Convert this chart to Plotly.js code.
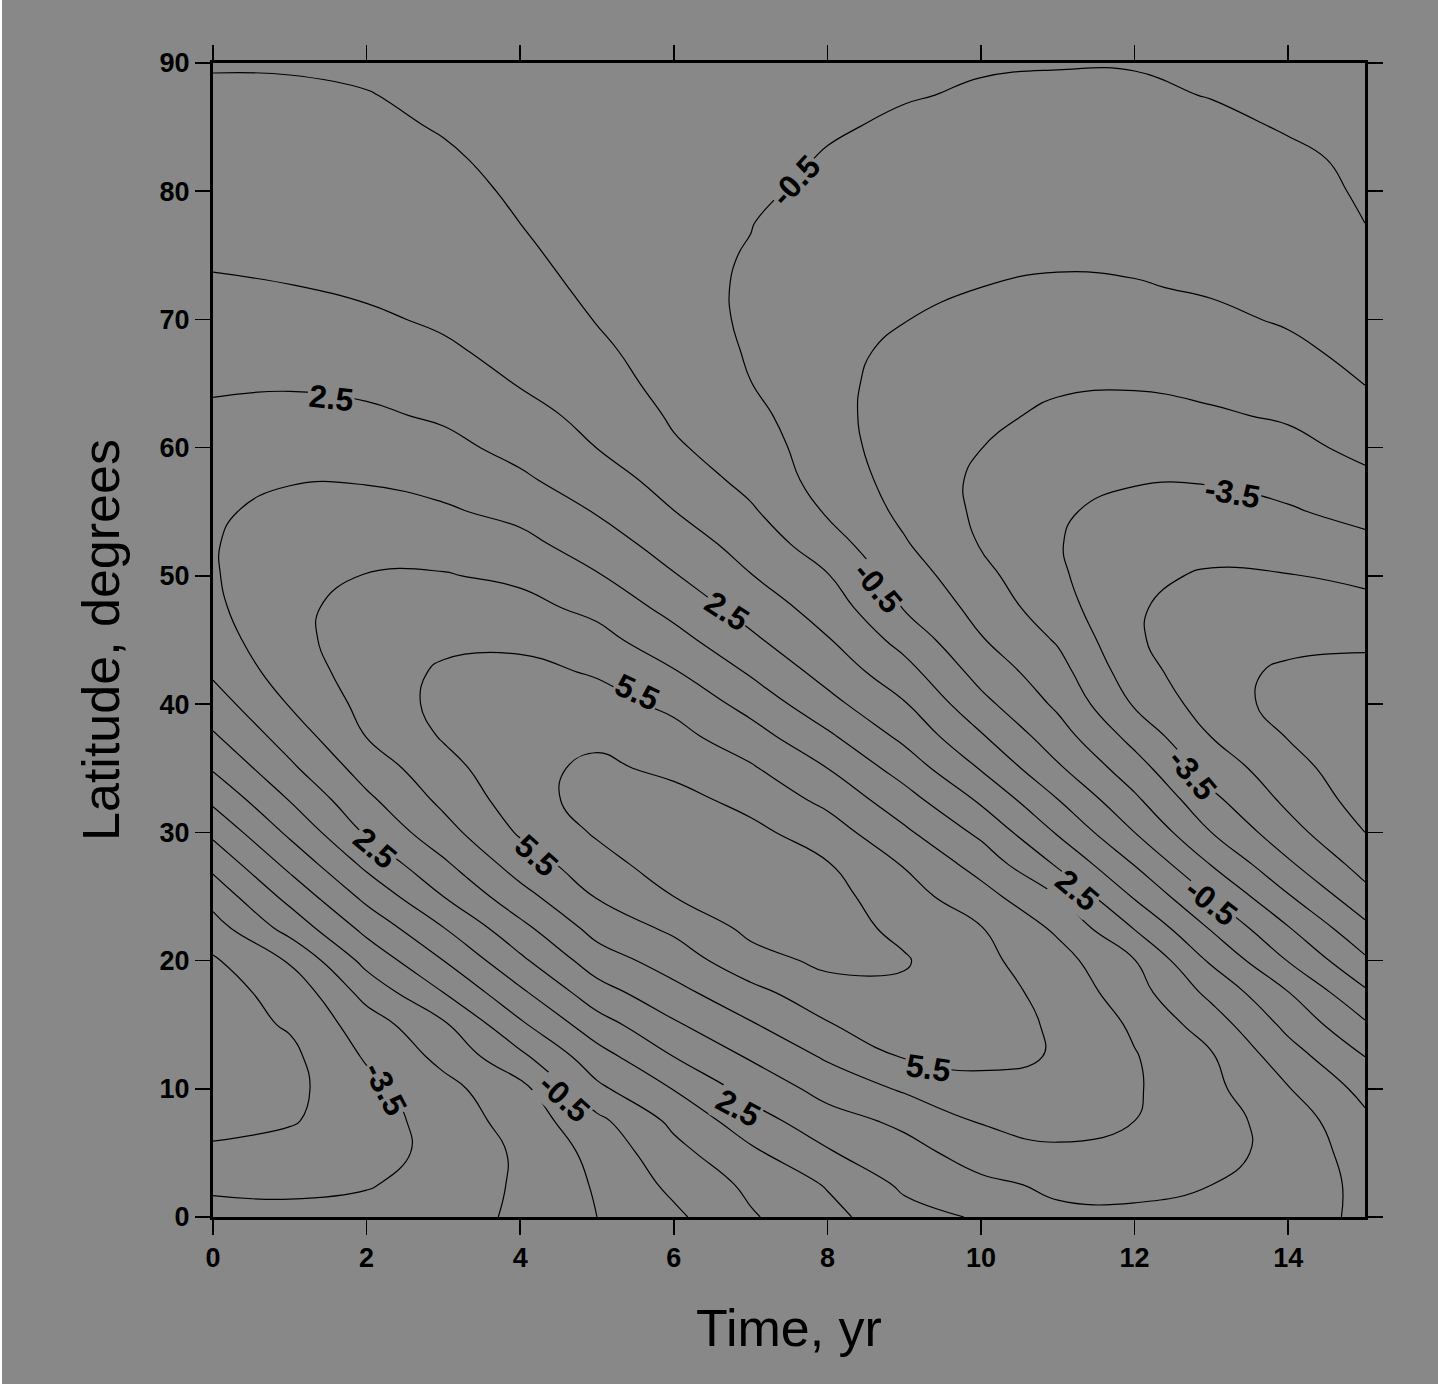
<!DOCTYPE html>
<html>
<head>
<meta charset="utf-8">
<script src="https://cdn.plot.ly/plotly-3.0.1.min.js"></script>
<style>
  html, body { margin: 0; padding: 0; background: #ffffff; }
  #chart { margin-left: 2px; width: 1436px; height: 1384px; }
</style>
</head>
<body>
<div id="chart"></div>
<script>
// Time axis (years) and latitude axis (degrees)
const timeYears = [0, 1, 2, 3, 4, 5, 6, 7, 8, 9, 10, 11, 12, 13, 14, 15];
const latitudeDeg = [0, 2.5, 5, 7.5, 10, 12.5, 15, 17.5, 20, 22.5, 25, 27.5, 30, 32.5, 35, 37.5, 40, 42.5, 45,
                     47.5, 50, 52.5, 55, 57.5, 60, 62.5, 65, 67.5, 70, 72.5, 75, 77.5, 80, 82.5, 85, 87.5, 90];

// Field values, one row per latitude (t = 0..15 yr)
const lat00_0 = [-3.1, -3.25, -3.19, -3.0, -2.3, -1.5, -0.7, 0.4, 1.2, 2.15, 2.6, 3.3, 3.35, 3.1, 2.95, 2.3];
const lat02_5 = [-3.7, -3.7, -3.56, -3.15, -2.35, -1.4, -0.27, 0.7, 1.57, 2.67, 3.28, 3.68, 3.69, 3.5, 3.1, 2.25];
const lat05_0 = [-4.38, -4.14, -3.9, -3.2, -2.35, -1.2, 0.18, 1.3, 2.4, 3.14, 3.94, 4.3, 4.1, 3.85, 3.15, 2.05];
const lat07_5 = [-4.71, -4.58, -3.99, -3.05, -2.1, -0.75, 0.73, 2.07, 3.11, 3.71, 4.58, 4.9, 4.5, 3.9, 3.06, 1.7];
const lat10_0 = [-4.88, -4.75, -3.8, -2.8, -1.8, 0.29, 1.54, 2.85, 3.84, 4.63, 5.24, 5.29, 4.6, 3.75, 2.55, 1.21];
const lat12_5 = [-4.99, -4.73, -3.39, -2.24, -0.73, 1.09, 2.5, 3.6, 4.63, 5.56, 5.7, 5.45, 4.56, 3.6, 1.94, 0.5];
const lat15_0 = [-4.98, -4.4, -3.0, -1.65, 0.33, 2.07, 3.36, 4.4, 5.44, 5.95, 5.9, 5.38, 4.35, 3.0, 1.24, -0.36];
const lat17_5 = [-4.82, -4.2, -2.15, -0.5, 1.31, 3.08, 4.2, 5.19, 6.14, 6.33, 5.88, 5.21, 3.9, 2.25, 0.53, -1.34];
const lat20_0 = [-4.62, -3.4, -1.19, 0.5, 2.3, 4.02, 4.96, 6.15, 6.7, 6.58, 5.75, 4.88, 3.53, 1.35, -0.54, -2.34];
const lat22_5 = [-3.92, -2.15, -0.22, 1.46, 3.21, 4.85, 5.69, 6.73, 6.89, 6.29, 5.55, 4.33, 2.46, 0.42, -1.43, -3.25];
const lat25_0 = [-3.12, -1.19, 0.77, 2.5, 4.15, 5.56, 6.5, 7.02, 6.85, 5.9, 4.88, 3.5, 1.4, -0.54, -2.42, -4.17];
const lat27_5 = [-2.23, -0.23, 1.73, 3.33, 4.96, 6.11, 7.02, 7.01, 6.56, 5.44, 4.11, 2.38, 0.46, -1.54, -3.35, -4.89];
const lat30_0 = [-1.27, 0.7, 2.63, 4.13, 5.62, 6.62, 7.14, 6.75, 5.98, 4.68, 3.28, 1.4, -0.5, -2.5, -4.14, -5.5];
const lat32_5 = [-0.31, 1.53, 3.29, 4.72, 6.01, 6.94, 6.83, 6.21, 5.26, 3.91, 2.36, 0.53, -1.31, -3.26, -4.71, -5.91];
const lat35_0 = [0.6, 2.31, 3.93, 5.16, 6.2, 6.7, 6.27, 5.62, 4.5, 3.07, 1.43, -0.36, -2.08, -3.93, -5.13, -6.14];
const lat37_5 = [1.39, 2.96, 4.53, 5.59, 6.24, 6.29, 5.81, 4.91, 3.67, 2.26, 0.6, -1.08, -2.84, -4.52, -5.55, -6.2];
const lat40_0 = [2.05, 3.56, 4.79, 5.8, 6.08, 5.86, 5.28, 4.16, 2.81, 1.58, -0.21, -1.68, -3.6, -5.0, -5.85, -6.08];
const lat42_5 = [2.65, 4.0, 4.93, 5.65, 5.76, 5.41, 4.58, 3.39, 2.14, 0.87, -0.86, -2.13, -4.07, -5.2, -5.65, -5.78];
const lat45_0 = [3.05, 4.24, 4.95, 5.26, 5.29, 4.84, 3.85, 2.69, 1.57, 0.15, -1.43, -2.6, -4.38, -5.15, -5.26, -5.32];
const lat47_5 = [3.31, 4.3, 4.81, 4.92, 4.81, 4.24, 3.18, 2.1, 1.06, -0.55, -1.84, -3.1, -4.4, -4.95, -4.9, -4.81];
const lat50_0 = [3.42, 4.23, 4.53, 4.56, 4.31, 3.58, 2.57, 1.54, 0.56, -0.98, -2.22, -3.35, -4.32, -4.6, -4.54, -4.29];
const lat52_5 = [3.44, 4.06, 4.17, 4.1, 3.78, 3.0, 2.04, 1.09, -0.05, -1.41, -2.56, -3.45, -4.12, -4.2, -4.08, -3.74];
const lat55_0 = [3.36, 3.8, 3.8, 3.63, 3.23, 2.44, 1.52, 0.64, -0.6, -1.72, -2.68, -3.39, -3.81, -3.82, -3.6, -3.21];
const lat57_5 = [3.2, 3.43, 3.44, 3.19, 2.66, 1.96, 1.11, 0.2, -0.89, -1.9, -2.67, -3.24, -3.42, -3.43, -3.18, -2.7];
const lat60_0 = [2.97, 3.09, 3.05, 2.77, 2.21, 1.49, 0.61, 0.05, -1.08, -1.99, -2.49, -3.01, -3.09, -3.02, -2.77, -2.26];
const lat62_5 = [2.67, 2.75, 2.66, 2.37, 1.81, 1.23, 0.38, -0.22, -1.18, -1.99, -2.29, -2.68, -2.75, -2.61, -2.39, -1.85];
const lat65_0 = [2.37, 2.42, 2.3, 1.98, 1.45, 0.96, 0.14, -0.49, -1.2, -1.9, -2.09, -2.37, -2.43, -2.28, -2.03, -1.48];
const lat67_5 = [2.11, 2.12, 1.99, 1.62, 1.26, 0.71, -0.03, -0.57, -1.18, -1.73, -1.9, -2.11, -2.14, -1.96, -1.67, -1.28];
const lat70_0 = [1.85, 1.82, 1.62, 1.39, 1.05, 0.46, -0.2, -0.6, -1.14, -1.48, -1.7, -1.85, -1.84, -1.65, -1.42, -1.09];
const lat72_5 = [1.59, 1.52, 1.38, 1.24, 0.7, 0.38, -0.26, -0.59, -1.07, -1.34, -1.5, -1.59, -1.55, -1.42, -1.25, -0.89];
const lat75_0 = [1.4, 1.36, 1.27, 1.07, 0.57, 0.35, -0.3, -0.54, -0.97, -1.19, -1.34, -1.4, -1.37, -1.26, -1.09, -0.6];
const lat77_5 = [1.24, 1.21, 1.13, 0.92, 0.5, 0.26, -0.29, -0.48, -0.88, -1.04, -1.19, -1.24, -1.21, -1.1, -0.92, -0.5];
const lat80_0 = [1.08, 1.06, 0.97, 0.72, 0.4, 0.22, -0.25, -0.33, -0.74, -0.9, -1.03, -1.08, -1.06, -0.94, -0.76, -0.42];
const lat82_5 = [0.93, 0.91, 0.83, 0.6, 0.29, 0.19, -0.2, -0.28, -0.55, -0.75, -0.87, -0.92, -0.9, -0.78, -0.6, -0.4];
const lat85_0 = [0.77, 0.75, 0.67, 0.45, 0.28, 0.15, -0.15, -0.25, -0.43, -0.6, -0.71, -0.77, -0.75, -0.63, -0.46, -0.33];
const lat87_5 = [0.61, 0.6, 0.52, 0.38, 0.23, 0.12, -0.1, -0.2, -0.35, -0.46, -0.56, -0.61, -0.59, -0.48, -0.4, -0.3];
const lat90_0 = [0.45, 0.44, 0.4, 0.3, 0.18, 0.08, -0.05, -0.15, -0.25, -0.35, -0.45, -0.47, -0.47, -0.4, -0.32, -0.25];

const zField = [lat00_0, lat02_5, lat05_0, lat07_5, lat10_0, lat12_5, lat15_0, lat17_5, lat20_0, lat22_5,
                lat25_0, lat27_5, lat30_0, lat32_5, lat35_0, lat37_5, lat40_0, lat42_5, lat45_0, lat47_5,
                lat50_0, lat52_5, lat55_0, lat57_5, lat60_0, lat62_5, lat65_0, lat67_5, lat70_0, lat72_5,
                lat75_0, lat77_5, lat80_0, lat82_5, lat85_0, lat87_5, lat90_0];

// Contour labels: value, where it sits (yr, deg) and its tilt
const labelText  = ['2.5', '-0.5', '-3.5', '-0.5', '2.5', '5.5', '-3.5', '2.5', '5.5', '2.5', '-0.5', '5.5', '-3.5', '-0.5', '2.5'];
const labelTime  = [1.54, 7.58, 13.28, 8.65, 6.69, 5.52, 12.76, 2.11, 4.2, 11.25, 13.0, 9.31, 2.25, 4.58, 6.84];
const labelLat   = [63.9, 80.8, 56.5, 49.1, 47.3, 40.95, 34.5, 28.8, 28.2, 25.5, 24.6, 11.6, 10.0, 9.3, 8.5];
const labelTilt  = [6, -47, 10, 50, 33, 25, 50, 40, 42, 40, 38, 8, 62, 42, 28];

const FONT = 'Liberation Sans, Arial, Helvetica, sans-serif';
const BG = '#888888';

// Contour levels -5.5 .. 6.5 every 1
const trace = {
  type: 'contour',
  x: timeYears,
  y: latitudeDeg,
  z: zField,
  autocontour: false,
  contours: {start: -5.5, end: 6.5, size: 1, coloring: 'none', showlabels: false},
  line: {color: '#000000', width: 1.2, smoothing: 1.3},
  showscale: false,
  hoverinfo: 'skip'
};

const annotations = labelText.map((txt, i) => ({
  x: labelTime[i], y: labelLat[i], xref: 'x', yref: 'y',
  text: txt, showarrow: false, textangle: labelTilt[i],
  bgcolor: BG, borderpad: 1,
  font: {family: FONT, size: 32, color: '#000000', weight: 'bold'}
}));

const axisCommon = {
  showgrid: false,
  zeroline: false,
  showline: true,
  linecolor: '#000000',
  linewidth: 3,
  mirror: 'allticks',
  ticks: 'outside',
  ticklen: 15,
  tickwidth: 1.5,
  tickcolor: '#000000',
  tickfont: {family: FONT, size: 27, color: '#000000', weight: 'bold'}
};

const layout = {
  width: 1436,
  height: 1384,
  paper_bgcolor: BG,
  plot_bgcolor: BG,
  margin: {l: 211, r: 73, t: 63, b: 167},
  showlegend: false,
  annotations: annotations,
  xaxis: Object.assign({}, axisCommon, {
    range: [0, 15],
    tickmode: 'linear', tick0: 0, dtick: 2,
    title: {text: 'Time, yr', font: {family: FONT, size: 52, color: '#000000'}, standoff: 38}
  }),
  yaxis: Object.assign({}, axisCommon, {
    range: [0, 90],
    tickmode: 'linear', tick0: 0, dtick: 10,
    title: {text: 'Latitude, degrees', font: {family: FONT, size: 52, color: '#000000'}, standoff: 24}
  })
};

Plotly.newPlot('chart', [trace], layout, {staticPlot: true, displayModeBar: false});
</script>
</body>
</html>
